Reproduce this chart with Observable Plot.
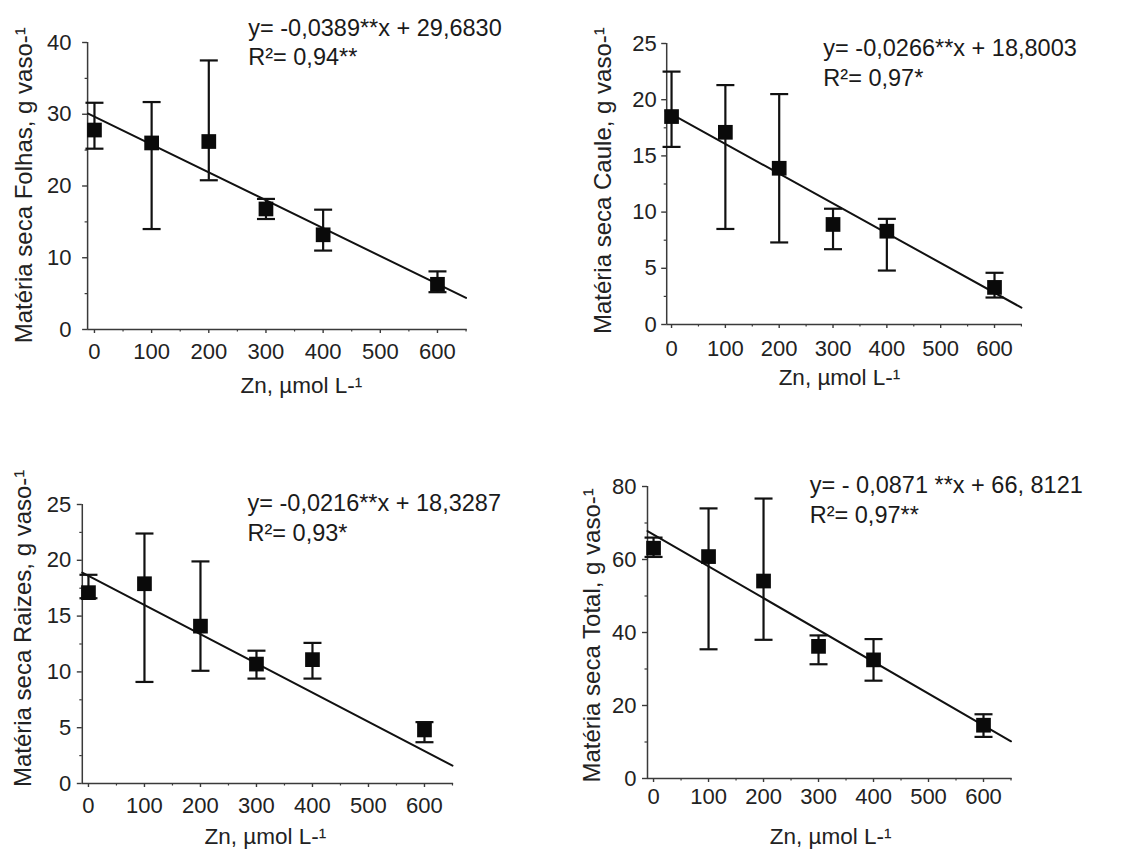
<!DOCTYPE html>
<html>
<head>
<meta charset="utf-8">
<script src="https://cdn.jsdelivr.net/npm/d3@7"></script>
<script src="https://cdn.jsdelivr.net/npm/@observablehq/plot@0.6"></script>
<style>
  html, body { margin: 0; padding: 0; background: #fff; }
  #wrap { position: relative; width: 1123px; height: 851px; overflow: hidden; background: #fff; }
  .panel { position: absolute; }
</style>
</head>
<body>
<div id="wrap"></div>
<script>
// ---------------- data ----------------
const zn = [0, 100, 200, 300, 400, 600];

const folhasMean = [27.8, 26.0, 26.2, 16.8, 13.2, 6.3];
const folhasHi   = [31.6, 31.7, 37.5, 18.2, 16.7, 8.1];
const folhasLo   = [25.2, 14.0, 20.8, 15.4, 11.0, 5.2];

const cauleMean = [18.5, 17.1, 13.9, 8.9, 8.3, 3.3];
const cauleHi   = [22.5, 21.3, 20.5, 10.3, 9.4, 4.6];
const cauleLo   = [15.8, 8.5, 7.3, 6.7, 4.8, 2.4];

const raizesMean = [17.1, 17.9, 14.1, 10.7, 11.1, 4.8];
const raizesHi   = [18.7, 22.4, 19.9, 11.9, 12.6, 5.5];
const raizesLo   = [16.6, 9.1, 10.1, 9.4, 9.4, 3.7];

const totalMean = [63.1, 60.8, 54.1, 36.2, 32.5, 14.6];
const totalHi   = [66.0, 74.0, 76.7, 39.2, 38.2, 17.6];
const totalLo   = [60.7, 35.4, 38.0, 31.3, 26.8, 11.4];

// drawn regression line end points (start at the y axis, end at x = 650)
const lineX = [-11, 650];
const folhasLineY = [30.1, 4.4];
const cauleLineY  = [19.0, 1.5];
const raizesLineY = [18.9, 1.6];
const totalLineY  = [67.8, 10.2];

const yLabels = [
  "Matéria seca Folhas, g vaso-¹",
  "Matéria seca Caule, g vaso-¹",
  "Matéria seca Raizes, g vaso-¹",
  "Matéria seca Total, g vaso-¹"
];
const xLabel = "Zn, µmol L-¹";
const eqLines = [
  ["y= -0,0389**x + 29,6830", "R²= 0,94**"],
  ["y= -0,0266**x + 18,8003", "R²= 0,97*"],
  ["y= -0,0216**x + 18,3287", "R²= 0,93*"],
  ["y= - 0,0871 **x + 66, 8121", "R²= 0,97**"]
];
const xTicks = [0, 100, 200, 300, 400, 500, 600];
const xMinor = [50, 150, 250, 350, 450, 550, 650];
const yTicksList = [
  [0, 10, 20, 30, 40],
  [0, 5, 10, 15, 20, 25],
  [0, 5, 10, 15, 20, 25],
  [0, 20, 40, 60, 80]
];
const yMinorList = [
  [5, 15, 25, 35],
  [2.5, 7.5, 12.5, 17.5, 22.5],
  [2.5, 7.5, 12.5, 17.5, 22.5],
  [10, 30, 50, 70]
];

// ---------------- layout ----------------
const FONT = "'Liberation Sans', Arial, Helvetica, sans-serif";
const panels = [
  { mean: folhasMean, hi: folhasHi, lo: folhasLo, lineY: folhasLineY,
    left: 0, top: 0, xmin: -12, ymax: 40,
    mL: 87.1, mR: 93.3, mT: 42, mB: 96, yPad: 11,
    eqX: 269, eqY: [41.9, 37.9], xlabX: 362, xlabDy: 56, ylabY: 20.1, ylabDx: -63, xPad: 10 },
  { mean: cauleMean, hi: cauleHi, lo: cauleLo, lineY: cauleLineY,
    left: 563, top: 0, xmin: -9, ymax: 25,
    mL: 103.2, mR: 101, mT: 43, mB: 101, yPad: 5,
    eqX: 282, eqY: [24.55, 21.9], xlabX: 312, xlabDy: 53, ylabY: 12.8, ylabDx: -63, xPad: 12 },
  { mean: raizesMean, hi: raizesHi, lo: raizesLo, lineY: raizesLineY,
    left: 0, top: 426, xmin: -11, ymax: 25,
    mL: 81.8, mR: 106.9, mT: 78, mB: 68, yPad: 6,
    eqX: 284, eqY: [25.1, 22.4], xlabX: 316, xlabDy: 53, ylabY: 13.9, ylabDx: -59, xPad: 10 },
  { mean: totalMean, hi: totalHi, lo: totalLo, lineY: totalLineY,
    left: 563, top: 426, xmin: -11, ymax: 80,
    mL: 84, mR: 111.4, mT: 60, mB: 73, yPad: 6,
    eqX: 284, eqY: [80.3, 72.1], xlabX: 322, xlabDy: 58, ylabY: 39.2, ylabDx: -55, xPad: 6 }
];

const capSymbol = {
  draw(context) { context.moveTo(-9, 0); context.lineTo(9, 0); }
};

const wrap = document.getElementById("wrap");

panels.forEach((p, i) => {
  const rows = zn.map((x, j) => ({ x, m: p.mean[j], hi: p.hi[j], lo: p.lo[j] }));
  const caps = rows.flatMap(r => [{ x: r.x, y: r.hi }, { x: r.x, y: r.lo }]);
  const fit = lineX.map((x, j) => ({ x, y: p.lineY[j] }));
  const axisColor = "#3a3a3a";

  const chart = Plot.plot({
    width: 560,
    height: 425,
    marginLeft: p.mL,
    marginRight: p.mR,
    marginTop: p.mT,
    marginBottom: p.mB,
    style: { fontFamily: FONT, background: "transparent", overflow: "visible" },
    x: { domain: [p.xmin, 652] },
    y: { domain: [0, p.ymax] },
    marks: [
      // minor ticks
      Plot.axisX({ ticks: xMinor, tickSize: 2.5, tickFormat: () => "", stroke: axisColor, strokeWidth: 1.2, label: null }),
      Plot.axisY({ ticks: yMinorList[i], tickSize: 2.5, tickFormat: () => "", stroke: axisColor, strokeWidth: 1.2, label: null }),
      // major ticks
      Plot.axisX({ ticks: xTicks, tickSize: 4, tickPadding: p.xPad, tickFormat: d => String(d),
        fontSize: 22, fill: "#222", stroke: axisColor, strokeWidth: 1.4, label: null }),
      Plot.axisY({ ticks: yTicksList[i], tickSize: 5, tickPadding: p.yPad, tickFormat: d => String(d),
        fontSize: 22, fill: "#222", stroke: axisColor, strokeWidth: 1.4, label: null }),
      // axis lines
      Plot.ruleY([0], { stroke: axisColor, strokeWidth: 1.5 }),
      Plot.ruleX([p.xmin], { stroke: axisColor, strokeWidth: 1.5 }),
      // regression line
      Plot.line(fit, { x: "x", y: "y", stroke: "#111", strokeWidth: 2 }),
      // error bars
      Plot.ruleX(rows, { x: "x", y1: "lo", y2: "hi", stroke: "#111", strokeWidth: 2.2 }),
      Plot.dot(caps, { x: "x", y: "y", symbol: capSymbol, stroke: "#111", strokeWidth: 2.2, fill: "none", r: 5 }),
      // means
      Plot.dot(rows, { x: "x", y: "m", symbol: "square", r: 8.3, fill: "#0a0a0a", stroke: "none" }),
      // equation text
      Plot.text([eqLines[i][0]], { x: () => p.eqX, y: () => p.eqY[0], text: d => d, textAnchor: "start",
        fontSize: 23.5, fill: "#1a1a1a", lineAnchor: "middle", clip: false }),
      Plot.text([eqLines[i][1]], { x: () => p.eqX, y: () => p.eqY[1], text: d => d, textAnchor: "start",
        fontSize: 23.5, fill: "#1a1a1a", lineAnchor: "middle", clip: false }),
      // axis titles
      Plot.text([xLabel], { x: () => p.xlabX, frameAnchor: "bottom", dy: p.xlabDy, text: d => d,
        textAnchor: "middle", fontSize: 22.5, fill: "#222", lineAnchor: "middle" }),
      Plot.text([yLabels[i]], { y: () => p.ylabY, frameAnchor: "left", dx: p.ylabDx, rotate: -90, text: d => d,
        textAnchor: "middle", fontSize: 24, fill: "#222", lineAnchor: "middle" })
    ]
  });
  chart.classList.add("panel");
  chart.style.left = p.left + "px";
  chart.style.top = p.top + "px";
  wrap.appendChild(chart);
});
</script>
</body>
</html>
